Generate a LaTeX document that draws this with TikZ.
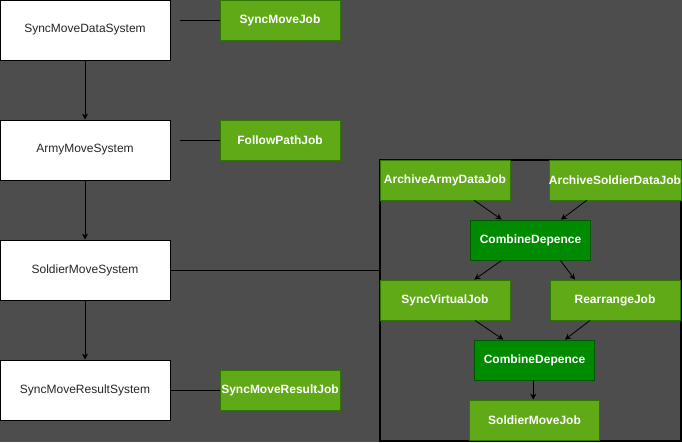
\documentclass[tikz,border=0pt]{standalone}
\usepackage{fontspec}
\setmainfont{Liberation Sans}
\usetikzlibrary{arrows.meta}
\definecolor{bg}{HTML}{4D4D4D}
\definecolor{jobfill}{HTML}{60A917}
\definecolor{jobline}{HTML}{2D7600}
\definecolor{combfill}{HTML}{008A00}
\definecolor{combline}{HTML}{005700}
\begin{document}
\begin{tikzpicture}[x=1pt,y=-1pt,
  sysbox/.style={draw=black,fill=white,line width=0.8pt,minimum width=170pt,minimum height=60pt,inner sep=0pt,font=\fontsize{12}{14}\selectfont,text=black!85},
  jobbox/.style={draw=jobline,fill=jobfill,line width=0.8pt,minimum width=120pt,minimum height=40pt,inner sep=0pt,font=\fontsize{12}{14}\selectfont\bfseries,text=white},
  widejob/.style={jobbox,minimum width=130pt},
  combbox/.style={draw=combline,fill=combfill,line width=0.8pt,minimum width=120pt,minimum height=40pt,inner sep=0pt,font=\fontsize{12}{14}\selectfont\bfseries,text=white},
  link/.style={draw=black,line width=0.8pt},
  flow/.style={draw=black,line width=0.8pt,-{Stealth[length=6pt,width=6pt]}}
]
\fill[bg] (0,0) rectangle (682,442);
\useasboundingbox (0,0) rectangle (682,442);
% container
\draw[black,line width=2.5pt] (380,160) rectangle (681,441);
% systems
\node[sysbox] (s1) at (85,30) {SyncMoveDataSystem};
\node[sysbox] (s2) at (85,150) {ArmyMoveSystem};
\node[sysbox] (s3) at (85,270) {SoldierMoveSystem};
\node[sysbox] (s4) at (85,390) {SyncMoveResultSystem};
% side jobs
\node[jobbox] (j1) at (280,20) {SyncMoveJob};
\node[jobbox] (j2) at (280,140) {FollowPathJob};
\node[jobbox] (j4) at (280,390) {SyncMoveResultJob};
\coordinate (c1) at (180,20);
\coordinate (c2) at (180,140);
\coordinate (cont) at (380,270);
\draw[link] (c1) -- (j1.west);
\draw[link] (c2) -- (j2.west);
\draw[link] (s4.east) -- (j4.west);
\draw[link] (s3.east) -- (cont);
\draw[flow] (s1) -- (s2);
\draw[flow] (s2) -- (s3);
\draw[flow] (s3) -- (s4);
% inner jobs
\node[widejob] (a1) at (445,180) {ArchiveArmyDataJob};
\node[widejob] (a2) at (615,180) {ArchiveSoldierDataJob};
\node[combbox] (cb1) at (530.5,240) {CombineDepence};
\node[widejob] (v1) at (445,300) {SyncVirtualJob};
\node[widejob] (r1) at (615,300) {RearrangeJob};
\node[combbox] (cb2) at (534.5,360) {CombineDepence};
\node[widejob] (sm) at (534.5,420) {SoldierMoveJob};
\draw[flow] ([xshift=29.3pt]a1.south) -- ([xshift=-28.8pt]cb1.north);
\draw[flow] ([xshift=-28.3pt]a2.south) -- ([xshift=30.5pt]cb1.north);
\draw[flow] ([xshift=-28.8pt]cb1.south) -- ([xshift=29.3pt]v1.north);
\draw[flow] ([xshift=29.8pt]cb1.south) -- ([xshift=-40pt]r1.north);
\draw[flow] ([xshift=30pt]v1.south) -- ([xshift=-31.2pt]cb2.north);
\draw[flow] ([xshift=-25pt]r1.south) -- ([xshift=30.5pt]cb2.north);
\draw[flow] ([xshift=-1.2pt]cb2.south) -- ([xshift=-1.2pt]sm.north);
\end{tikzpicture}
\end{document}
